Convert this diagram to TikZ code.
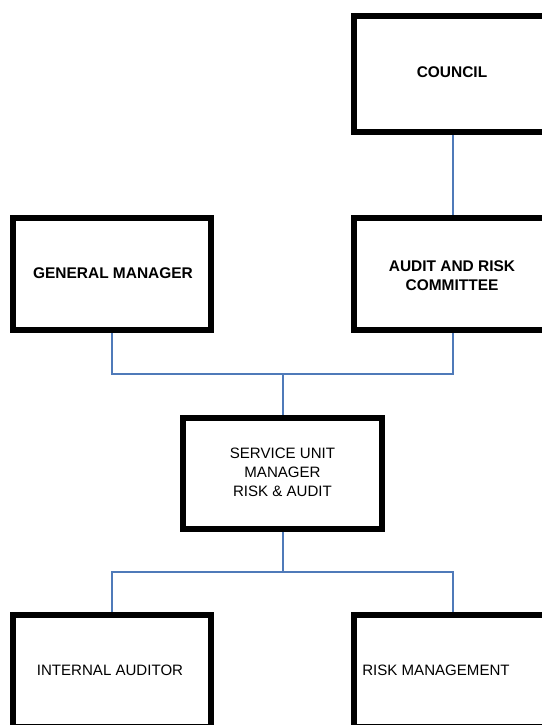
\documentclass[tikz,border=0pt]{standalone}
\usepackage{fontspec}
\setmainfont{Liberation Sans}
\definecolor{linkblue}{RGB}{79,122,185}
\begin{document}
\begin{tikzpicture}[x=0.75pt,y=-0.75pt,
  box/.style={draw=black,line width=3pt,rectangle,inner sep=0pt,minimum width=147pt,minimum height=82.5pt},
  boldtxt/.style={font=\fontsize{11.6pt}{14.25pt}\selectfont\bfseries,align=center,inner sep=0pt},
  regtxt/.style={font=\fontsize{11.3pt}{14.25pt}\selectfont,align=center,inner sep=0pt},
  link/.style={draw=linkblue,line width=1.4pt}]
\useasboundingbox (0,0) rectangle (542,725);
\clip (0,0) rectangle (542,725);
\fill[white] (0,0) rectangle (542,725);
% boxes
\node[box,minimum height=85.5pt] (council) at (453,74) {};
\node[boldtxt] (counciltxt) at (452,72) {COUNCIL};
\node[box] (gm) at (112,274) {};
\node[boldtxt] (gmtxt) at (113,273) {GENERAL MANAGER};
\node[box] (arc) at (453,274) {};
\node[boldtxt] (arctxt) at (452,276) {AUDIT AND RISK\\COMMITTEE};
\node[box,minimum width=147.75pt,minimum height=81.75pt] (sum) at (282.5,473.5) {};
\node[regtxt] (sumtxt) at (282.5,472) {SERVICE UNIT\\MANAGER\\RISK \& AUDIT};
\node[box] (ia) at (112,671) {};
\node[regtxt] (iatxt) at (110,670) {INTERNAL AUDITOR};
\node[box] (rm) at (453,671) {};
\node[regtxt] (rmtxt) at (436,670) {RISK MANAGEMENT};
% connectors
\coordinate (topbar) at (283,374);
\coordinate (botbar) at (283,572);
\draw[link] (council.south -| 453,0) -- (arc.north -| 453,0);
\draw[link] (gm.south) -- (gm.south |- topbar) -- (arc.south |- topbar) -- (arc.south);
\draw[link] (topbar) -- (sum.north -| topbar);
\draw[link] (sum.south -| botbar) -- (botbar);
\draw[link] (ia.north) -- (ia.north |- botbar) -- (rm.north |- botbar) -- (rm.north);
% redraw box borders above connectors
\foreach \n in {council,gm,arc,sum,ia,rm}{
  \draw[black,line width=3pt] (\n.north west) rectangle (\n.south east);
}
\end{tikzpicture}
\end{document}
